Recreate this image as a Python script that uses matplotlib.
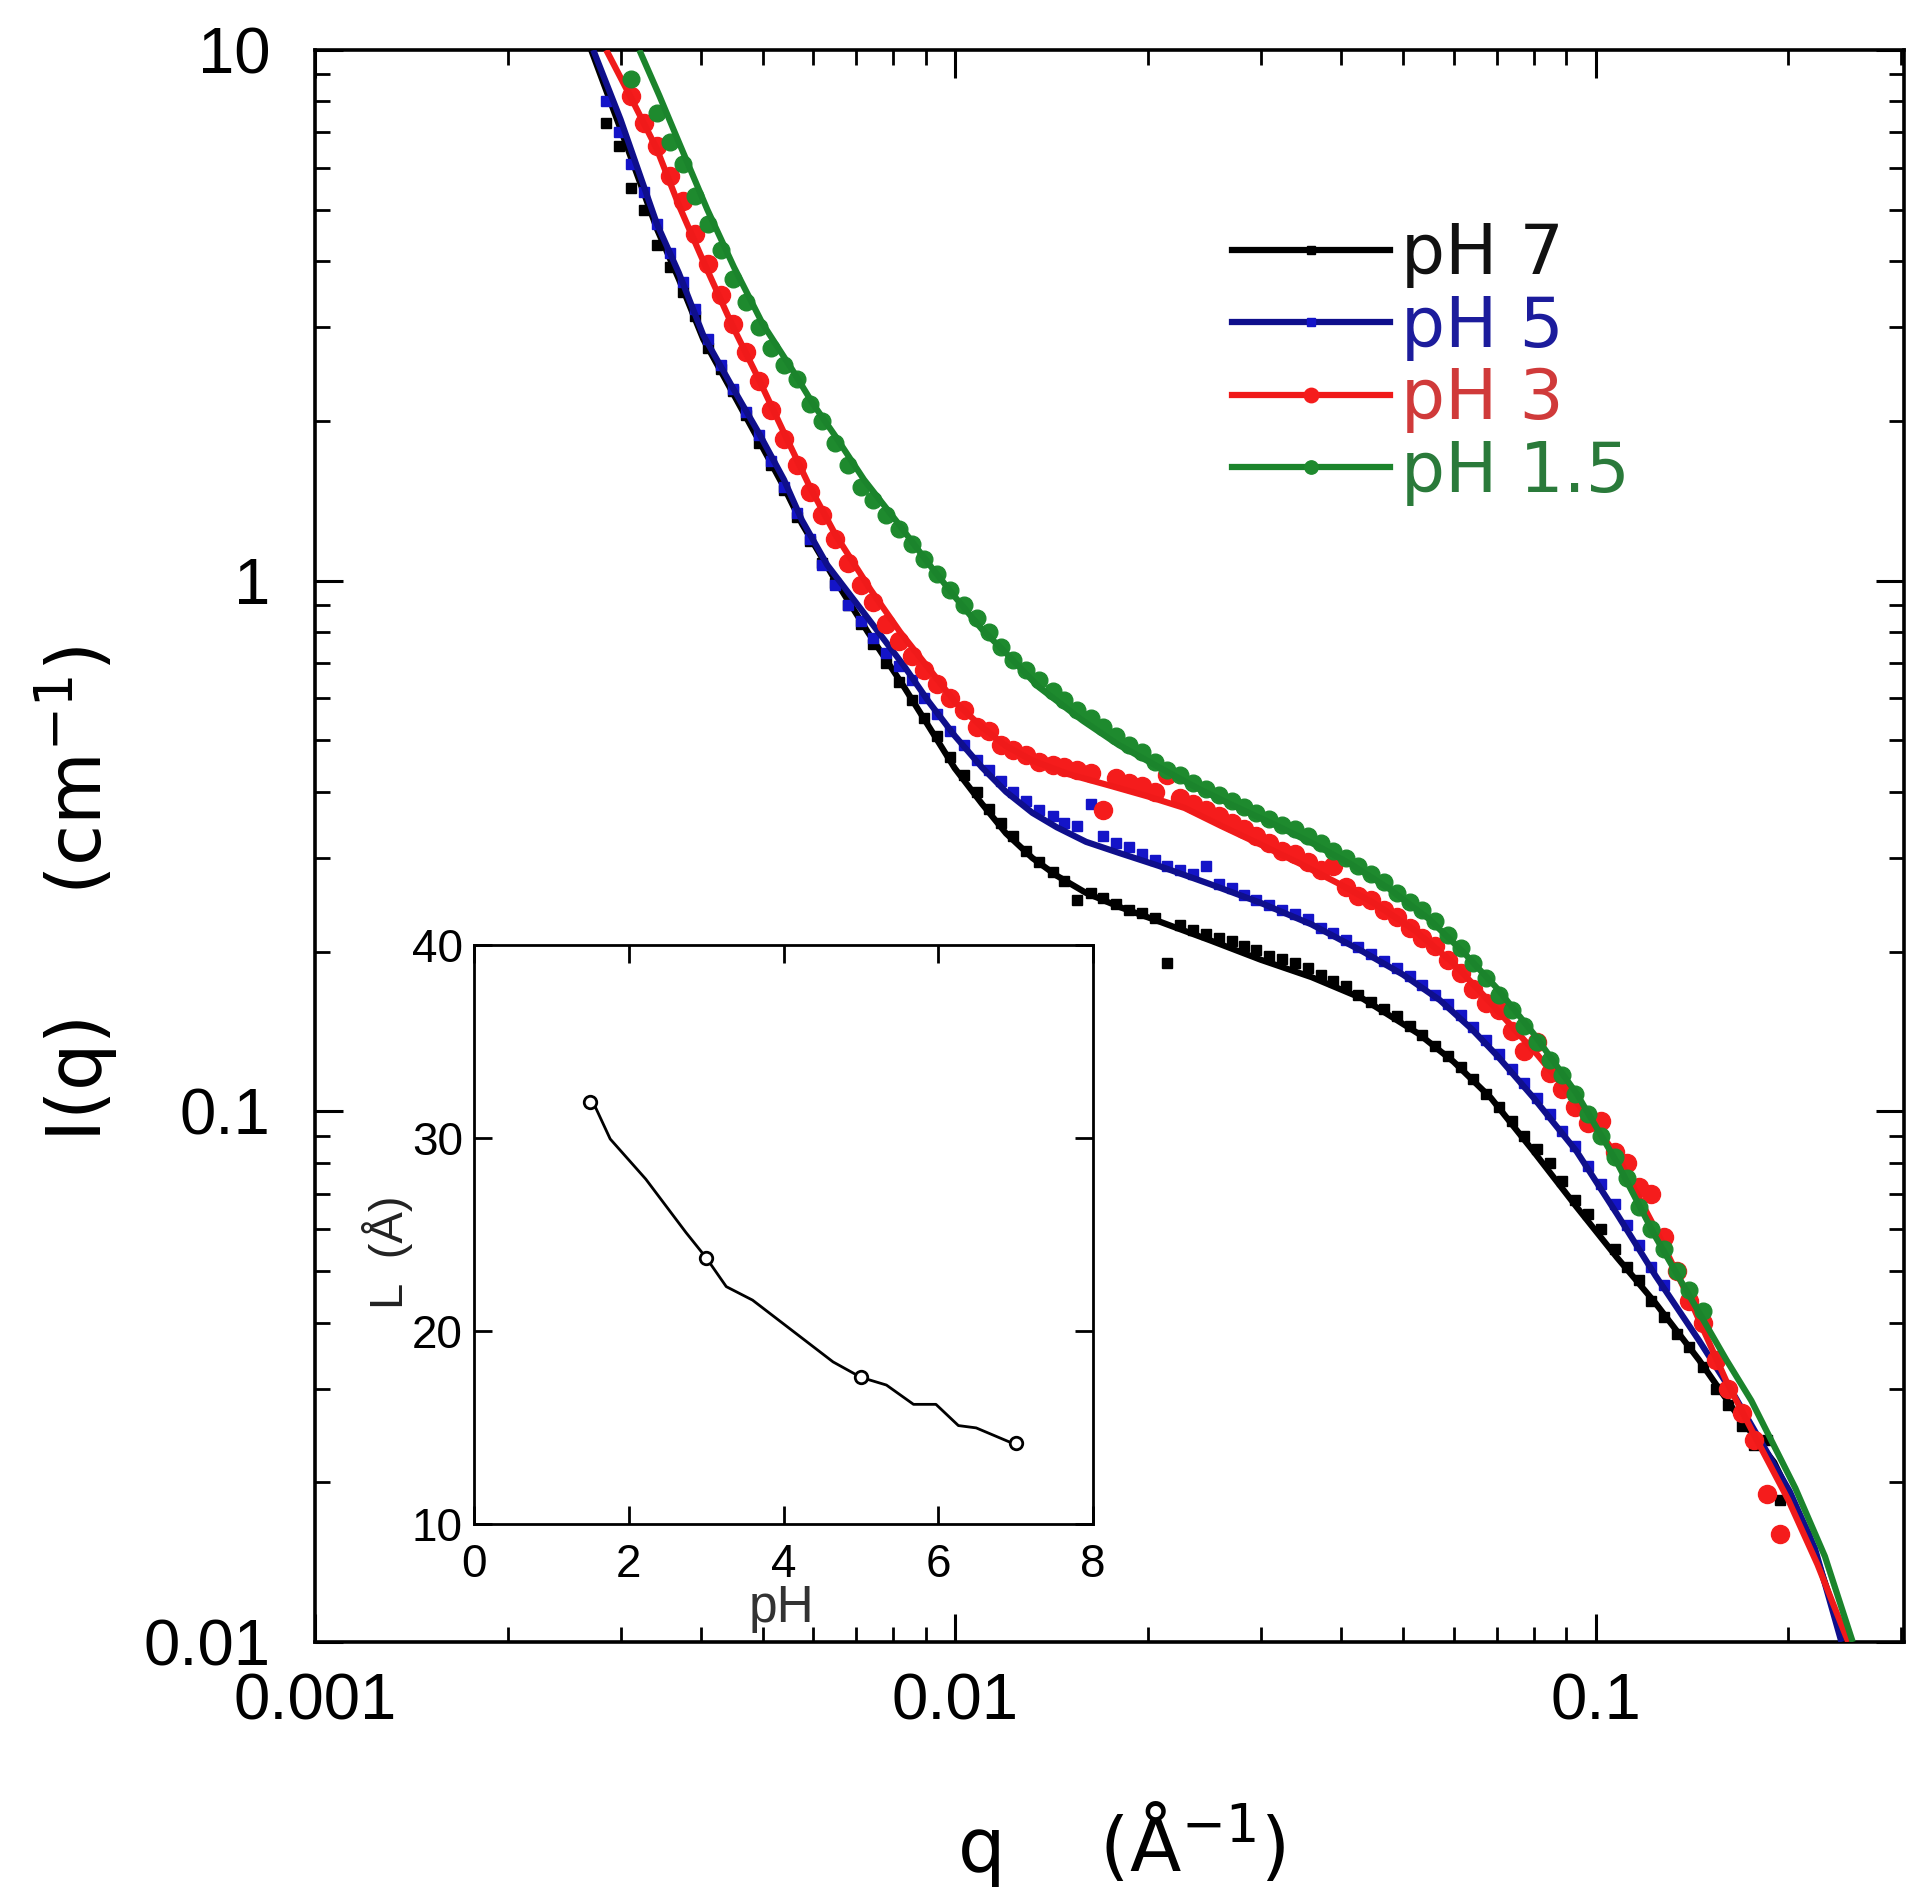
import numpy as np
import matplotlib
matplotlib.use("Agg")
import matplotlib.pyplot as plt
from matplotlib.lines import Line2D
from matplotlib.ticker import FixedLocator, LogLocator, NullFormatter

plt.rcParams['font.family'] = ['Liberation Sans', 'DejaVu Sans']
plt.rcParams['mathtext.fontset'] = 'dejavusans'

nan = float('nan')

# ---------------- main data (SANS curves) ----------------
q_data = [0.00285, 0.00298, 0.00312, 0.00327, 0.00342, 0.00358, 0.00375, 0.00392, 0.00411, 0.00430,
          0.00450, 0.00471, 0.00493, 0.00516, 0.00540, 0.00566, 0.00592, 0.00620, 0.00649, 0.00680,
          0.00712, 0.00745, 0.00780, 0.00817, 0.00855, 0.00895, 0.00937, 0.00981, 0.0103, 0.0108,
          0.0113, 0.0118, 0.0123, 0.0129, 0.0135, 0.0142, 0.0148, 0.0155, 0.0163, 0.0170,
          0.0178, 0.0187, 0.0196, 0.0205, 0.0214, 0.0224, 0.0235, 0.0246, 0.0258, 0.0270,
          0.0282, 0.0295, 0.0309, 0.0324, 0.0339, 0.0355, 0.0372, 0.0389, 0.0407, 0.0426,
          0.0446, 0.0467, 0.0489, 0.0512, 0.0536, 0.0561, 0.0587, 0.0615, 0.0644, 0.0674,
          0.0706, 0.0739, 0.0773, 0.0810, 0.0848, 0.0887, 0.0929, 0.0973, 0.102, 0.107,
          0.112, 0.117, 0.122, 0.128, 0.134, 0.140, 0.147, 0.154, 0.161, 0.169,
          0.177, 0.185, 0.194]

I_ph7 = [7.3, 6.6, 5.5, 5.0, 4.3, 3.9, 3.5, 3.15, 2.75, 2.5,
         2.28, 2.05, 1.82, 1.65, 1.48, 1.32, 1.19, 1.08, 0.99, 0.90,
         0.83, 0.76, 0.70, 0.645, 0.595, 0.55, 0.51, 0.465, 0.43, 0.40,
         0.372, 0.35, 0.33, 0.31, 0.295, 0.283, 0.272, 0.25, 0.258, 0.252,
         0.246, 0.240, 0.236, 0.231, 0.19, 0.224, 0.220, 0.216, 0.212, 0.209,
         0.205, 0.201, 0.196, 0.194, 0.190, 0.186, 0.181, 0.176, 0.172, 0.166,
         0.161, 0.156, 0.151, 0.145, 0.139, 0.133, 0.127, 0.121, 0.115, 0.108,
         0.102, 0.096, 0.090, 0.085, 0.080, 0.074, 0.068, 0.064, 0.060, 0.055,
         0.051, 0.048, 0.044, 0.041, 0.038, 0.036, 0.033, 0.030, 0.028, 0.0255,
         0.0235, 0.024, 0.0185]

I_ph5 = [8.0, 7.0, 6.1, 5.4, 4.7, 4.15, 3.65, 3.25, 2.85, 2.55,
         2.3, 2.08, 1.88, 1.68, 1.50, 1.34, 1.20, 1.07, 0.98, 0.90,
         0.84, 0.78, 0.73, 0.69, 0.65, 0.60, 0.56, 0.52, 0.49, 0.46,
         0.44, 0.42, 0.40, 0.385, 0.37, 0.36, 0.35, 0.345, 0.38, 0.33,
         0.32, 0.315, 0.305, 0.298, 0.29, 0.285, 0.28, 0.29, 0.268, 0.263,
         0.256, 0.25, 0.245, 0.24, 0.235, 0.23, 0.222, 0.217, 0.21, 0.204,
         0.198, 0.192, 0.186, 0.18, 0.173, 0.166, 0.159, 0.152, 0.144, 0.136,
         0.128, 0.12, 0.113, 0.106, 0.099, 0.092, 0.086, 0.079, 0.073, 0.067,
         0.061, 0.056, 0.051, 0.047, nan, nan, nan, nan, nan, nan,
         nan, nan, nan]

I_ph3 = [nan, nan, 8.2, 7.3, 6.6, 5.8, 5.2, 4.5, 3.95, 3.45,
         3.05, 2.7, 2.38, 2.1, 1.85, 1.65, 1.47, 1.33, 1.2, 1.08,
         0.98, 0.91, 0.83, 0.77, 0.72, 0.68, 0.64, 0.60, 0.57, 0.53,
         0.52, 0.49, 0.48, 0.47, 0.455, 0.45, 0.445, 0.44, 0.435, 0.37,
         0.425, 0.415, 0.41, 0.40, 0.43, 0.39, 0.38, 0.37, 0.36, 0.35,
         0.34, 0.33, 0.32, 0.31, 0.305, 0.295, 0.285, 0.29, 0.265, 0.255,
         0.25, 0.24, 0.232, 0.222, 0.212, 0.205, 0.193, 0.182, 0.170, 0.160,
         0.155, 0.142, 0.13, 0.135, 0.118, 0.110, 0.102, 0.095, 0.096, 0.084,
         0.080, 0.072, 0.070, 0.058, 0.05, 0.044, 0.040, 0.034, 0.030, 0.027,
         0.024, 0.019, 0.016]

I_ph15 = [nan, nan, 8.8, nan, 7.6, 6.7, 6.1, 5.3, 4.7, 4.2,
          3.7, 3.35, 3.0, 2.75, 2.55, 2.4, 2.15, 2.0, 1.82, 1.65,
          1.5, 1.42, 1.33, 1.25, 1.17, 1.1, 1.03, 0.96, 0.90, 0.85,
          0.80, 0.75, 0.71, 0.68, 0.65, 0.62, 0.595, 0.57, 0.55, 0.53,
          0.51, 0.49, 0.475, 0.455, 0.44, 0.43, 0.415, 0.405, 0.395, 0.385,
          0.375, 0.365, 0.355, 0.347, 0.34, 0.33, 0.32, 0.31, 0.30, 0.29,
          0.28, 0.27, 0.258, 0.248, 0.24, 0.228, 0.215, 0.203, 0.19, 0.178,
          0.166, 0.155, 0.145, 0.135, 0.125, 0.117, 0.108, 0.099, 0.090, 0.082,
          0.075, 0.066, 0.060, 0.055, 0.050, 0.046, 0.042, nan, nan, nan,
          nan, nan, nan]

# fitted curves
q_fit_ph7 = [0.00270, 0.00300, 0.00342, 0.00370, 0.00404, 0.00450, 0.00493, 0.00540, 0.00576, 0.0065,
             0.0073, 0.00832, 0.0091, 0.00998, 0.0110, 0.0120, 0.0132, 0.0144, 0.0160, 0.0180,
             0.0208, 0.0250, 0.0300, 0.0360, 0.0433, 0.0529, 0.0600, 0.0686, 0.0800, 0.0934,
             0.108, 0.124, 0.145, 0.165, 0.190, 0.215, 0.245]
I_fit_ph7 = [10.0, 7.1, 4.6, 3.7, 2.85, 2.25, 1.84, 1.50, 1.28, 1.0,
             0.80, 0.63, 0.53, 0.443, 0.38, 0.334, 0.30, 0.278, 0.258, 0.243,
             0.228, 0.210, 0.193, 0.179, 0.163, 0.140, 0.124, 0.106, 0.084, 0.066,
             0.053, 0.0435, 0.034, 0.0272, 0.0218, 0.016, 0.010]

q_fit_ph5 = [0.00272, 0.00300, 0.00342, 0.00370, 0.00404, 0.00450, 0.00493, 0.00540, 0.00576, 0.00631,
             0.0073, 0.00832, 0.0091, 0.00998, 0.0110, 0.0120, 0.0132, 0.0144, 0.0160, 0.0180,
             0.0208, 0.0250, 0.0300, 0.0360, 0.0433, 0.0500, 0.0571, 0.0640, 0.0703, 0.0800,
             0.0934, 0.108, 0.124, 0.145, 0.165, 0.201, 0.220, 0.242]
I_fit_ph5 = [10.0, 7.4, 4.7, 3.8, 2.9, 2.3, 1.9, 1.55, 1.30, 1.07,
             0.85, 0.69, 0.59, 0.51, 0.445, 0.40, 0.365, 0.343, 0.322, 0.307,
             0.290, 0.268, 0.247, 0.225, 0.200, 0.181, 0.162, 0.143, 0.127, 0.106,
             0.084, 0.064, 0.049, 0.037, 0.029, 0.0192, 0.0150, 0.010]

q_fit_ph3 = [0.00285, 0.00312, 0.00342, 0.00370, 0.00404, 0.00450, 0.00493, 0.00540, 0.00593, 0.0065,
             0.00738, 0.0082, 0.00912, 0.0100, 0.0110, 0.0120, 0.0132, 0.0150, 0.0173, 0.0200,
             0.0228, 0.0260, 0.0300, 0.0345, 0.0396, 0.0450, 0.0520, 0.0600, 0.0686, 0.0810,
             0.0934, 0.1076, 0.124, 0.143, 0.160, 0.177, 0.200, 0.222, 0.248]
I_fit_ph3 = [10.0, 8.1, 6.5, 5.1, 4.0, 3.0, 2.4, 1.9, 1.5, 1.22,
             0.96, 0.80, 0.68, 0.59, 0.53, 0.488, 0.458, 0.432, 0.412, 0.392,
             0.373, 0.345, 0.318, 0.293, 0.269, 0.247, 0.220, 0.190, 0.160, 0.128,
             0.104, 0.083, 0.060, 0.042, 0.031, 0.0245, 0.0185, 0.014, 0.010]

q_fit_ph15 = [0.00321, 0.00345, 0.00372, 0.00410, 0.00451, 0.00500, 0.00556, 0.0060, 0.00650, 0.0072,
              0.00811, 0.00912, 0.0100, 0.0110, 0.0120, 0.0135, 0.0158, 0.0180, 0.0208, 0.0240,
              0.0274, 0.0315, 0.0361, 0.0415, 0.0475, 0.0550, 0.0625, 0.0703, 0.0800, 0.0934,
              0.108, 0.124, 0.143, 0.160, 0.175, 0.205, 0.228, 0.252]
I_fit_ph15 = [10.0, 8.2, 6.6, 5.0, 3.9, 3.05, 2.5, 2.15, 1.87, 1.55,
              1.29, 1.07, 0.93, 0.81, 0.73, 0.63, 0.545, 0.49, 0.445, 0.405,
              0.375, 0.347, 0.320, 0.292, 0.263, 0.230, 0.198, 0.170, 0.140, 0.108,
              0.080, 0.058, 0.043, 0.034, 0.0285, 0.0195, 0.0145, 0.010]

labels = ['pH 7', 'pH 5', 'pH 3', 'pH 1.5']
line_colors = ['#000000', '#0f0f8c', '#f01a1a', '#1b842c']
marker_colors = ['#000000', '#1414c8', '#f51c1c', '#1e8a2e']
text_colors = ['#111111', '#1c1c9c', '#d03a3a', '#2a7a3a']
markers = ['s', 's', 'o', 'o']
marker_sizes = [7.5, 6.5, 13, 12]

x_ticks = [0.001, 0.01, 0.1]
x_ticklabels = ['0.001', '0.01', '0.1']
y_ticks = [0.01, 0.1, 1, 10]
y_ticklabels = ['0.01', '0.1', '1', '10']

# ---------------- inset data ----------------
pH_pts = [1.5, 3.0, 5.0, 7.0]
L_pts = [31.85, 23.8, 17.6, 14.2]
pH_curve = [1.54, 1.76, 2.22, 2.74, 3.0, 3.26, 3.6, 4.12, 4.64, 5.0, 5.33, 5.68, 5.97, 6.26, 6.49, 6.95]
L_curve = [31.85, 29.95, 27.87, 25.1, 23.8, 22.3, 21.6, 20.0, 18.4, 17.6, 17.2, 16.2, 16.2, 15.1, 14.98, 14.2]
inset_xticks = [0, 2, 4, 6, 8]
inset_yticks = [10, 20, 30, 40]

# ---------------- figure ----------------
fig = plt.figure(figsize=(19.2, 18.96), dpi=100)
ax = fig.add_axes([0.16406, 0.13397, 0.82760, 0.83966])
ax.set_xscale('log')
ax.set_yscale('log')

series_I = [I_ph7, I_ph5, I_ph3, I_ph15]
series_fit = [(q_fit_ph7, I_fit_ph7), (q_fit_ph5, I_fit_ph5), (q_fit_ph3, I_fit_ph3), (q_fit_ph15, I_fit_ph15)]
for k in range(4):
    ax.plot(q_data, series_I[k], linestyle='none', marker=markers[k], ms=marker_sizes[k],
            color=marker_colors[k], mec=marker_colors[k], zorder=2 + 2 * k)
    ax.plot(series_fit[k][0], series_fit[k][1], color=line_colors[k], lw=4.5,
            solid_capstyle='butt', solid_joinstyle='round', zorder=3 + 2 * k)

ax.set_xlim(0.001, 0.303)
ax.set_ylim(0.01, 10)

ax.xaxis.set_major_locator(FixedLocator(x_ticks))
ax.set_xticklabels(x_ticklabels)
ax.yaxis.set_major_locator(FixedLocator(y_ticks))
ax.set_yticklabels(y_ticklabels)
for axis in (ax.xaxis, ax.yaxis):
    axis.set_minor_locator(LogLocator(base=10, subs=np.arange(2, 10)))
    axis.set_minor_formatter(NullFormatter())

ax.tick_params(axis='both', which='both', direction='in', top=True, right=True)
ax.tick_params(axis='both', which='major', length=20, width=2.2, labelsize=47)
ax.tick_params(axis='both', which='minor', length=11, width=2.0)
ax.tick_params(axis='x', which='major', pad=22)
ax.tick_params(axis='y', which='major', pad=32)
for sp in ax.spines.values():
    sp.set_linewidth(2.6)

# legend
handles = [Line2D([], [], color=line_colors[k], lw=4.5, marker=markers[k],
                  ms=marker_sizes[k] * 0.8, mfc=marker_colors[k], mec=marker_colors[k])
           for k in range(4)]
leg = ax.legend(handles, labels, loc='upper left', bbox_to_anchor=(0.5771, 0.8925),
                frameon=False, borderpad=0, borderaxespad=0, handlelength=2.28,
                handletextpad=0.15, labelspacing=0.08, numpoints=1,
                prop={'family': 'DejaVu Sans', 'size': 50})
for t, c in zip(leg.get_texts(), text_colors):
    t.set_color(c)

# axis labels
fig.text(0.584, 0.0275, 'q    (Å$^{-1}$)', ha='center', va='center',
         fontsize=54, family='DejaVu Sans')
fig.text(0.040, 0.5285, 'I(q)     (cm$^{-1}$)', ha='center', va='center',
         rotation=90, fontsize=54, family='DejaVu Sans')

# ---------------- inset ----------------
axi = fig.add_axes([0.24688, 0.19620, 0.32240, 0.30538])
axi.set_facecolor('white')
axi.plot(pH_curve, L_curve, color='black', lw=2.0, zorder=2)
axi.plot(pH_pts, L_pts, linestyle='none', marker='o', ms=9, mfc='white', mec='black',
         mew=2.0, zorder=3)
axi.set_xlim(0, 8)
axi.set_ylim(10, 40)
axi.set_xticks(inset_xticks)
axi.set_yticks(inset_yticks)
axi.tick_params(axis='both', which='major', direction='in', top=True, right=True,
                length=13, width=2.0, labelsize=33)
axi.tick_params(axis='x', pad=14)
axi.tick_params(axis='y', pad=8)
for sp in axi.spines.values():
    sp.set_linewidth(2.0)
axi.set_xlabel('pH', fontsize=37, color='#333333', labelpad=0)
axi.xaxis.set_label_coords(0.496, -0.103)
axi.set_ylabel('L  (Å)', fontsize=34, color='#222222')
axi.yaxis.set_label_coords(-0.099, 0.47)

fig.savefig('out.png', dpi=100)
